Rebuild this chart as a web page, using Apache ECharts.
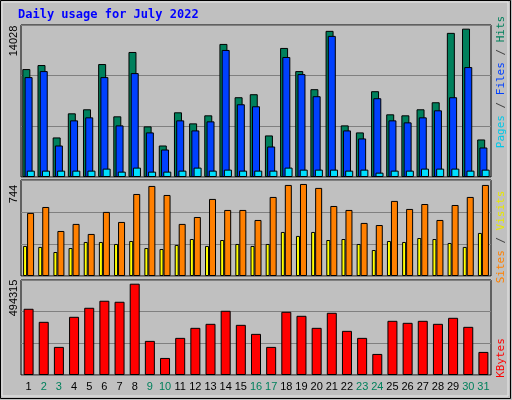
<!DOCTYPE html>
<html><head><meta charset="utf-8">
<script src="https://cdn.jsdelivr.net/npm/echarts@6/dist/echarts.min.js"></script>
<style>html,body{margin:0;padding:0;background:#c0c0c0}#c{width:512px;height:400px}</style>
</head><body><div id="c"></div>
<script>
const days = ['1','2','3','4','5','6','7','8','9','10','11','12','13','14','15','16','17','18','19','20','21','22','23','24','25','26','27','28','29','30','31'];
const weekend = ['2','3','9','10','16','17','23','24','30','31'];
const hits = [10207,10588,3741,6023,6403,10683,5738,11824,4787,2980,6118,5072,5833,12585,7545,7830,3931,12205,10017,8305,13821,4882,4216,8115,5928,5833,6403,7069,13631,14028,3550];
const files = [9447,10017,2980,5357,5643,9447,4882,9827,4216,2599,5357,4406,5262,12014,6879,6689,2885,11349,9732,7640,13346,4406,3646,7450,5357,5167,5643,6308,7545,10398,2790];
const pages = [602,602,602,602,602,793,507,888,507,507,602,888,602,697,602,602,602,888,697,697,697,602,697,412,602,602,793,793,793,602,697];
const visits = [510,558,364,421,340,518,437,663,728,655,421,477,623,534,534,453,639,736,744,712,566,534,429,412,607,542,582,453,574,639,736];
const sites = [243,235,194,226,275,275,259,283,226,218,251,299,243,291,259,243,259,356,324,356,291,299,259,210,283,275,307,299,267,235,348];
const kbytes = [358519,287901,152099,315062,363951,401975,396543,494315,184691,92346,200988,255309,277037,347654,271605,222716,152099,342222,320494,255309,336790,239012,200988,114074,293333,282469,293333,277037,309630,260741,124938];
const maxLabels = ['14028','744','494315'];

const ch = echarts.init(document.getElementById('c'));
const axMax = [14375, 776, 514300];
const grids = [{left:21,right:21,top:25,height:152},{left:21,right:21,top:180,height:96},{left:21,right:21,top:280,height:95}]
  .map(g=>Object.assign(g,{show:true,backgroundColor:'#c0c0c0',borderColor:'#000',borderWidth:1}));
const lf = 'Liberation Sans';
const xAxes = [0,1,2].map(i=>({type:'category',gridIndex:i,data:days,
  axisLine:{show:false},axisTick:{show:false},
  axisLabel:{show:i===2,interval:0,margin:6,fontFamily:lf,fontSize:11,
    formatter:v=>weekend.includes(v)?'{w|'+v+'}':'{n|'+v+'}',
    rich:{n:{color:'#000',fontFamily:lf,fontSize:11},w:{color:'#00805c',fontFamily:lf,fontSize:11}}}}));
const yAxes = [0,1,2].map(i=>({type:'value',gridIndex:i,min:0,max:axMax[i],interval:axMax[i]/3,
  axisLabel:{show:false},axisLine:{show:false},axisTick:{show:false},
  splitLine:{show:true,lineStyle:{color:'#808080',width:1}}}));
const bs = (data,color,i,w,gap)=>({type:'bar',data,xAxisIndex:i,yAxisIndex:i,barWidth:w,barGap:gap,
  itemStyle:{color,borderColor:'#000',borderWidth:1},animation:false,silent:true});
const rot = (text,x,y,extra)=>({type:'text',x,y,rotation:Math.PI/2,
  style:Object.assign({text,textAlign:'center',textVerticalAlign:'middle',fontFamily:lf,fontSize:11,fill:'#000'},extra||{})});
const r = c=>({fill:c,fontFamily:'DejaVu Sans Mono',fontSize:11});
const rich = {h:r('#00805c'),f:r('#0040ff'),p:r('#00c8e8'),s:r('#ff8000'),v:r('#e8e800'),k:r('#ff0000'),g:r('#404040')};
ch.setOption({
  animation:false,
  grid:grids, xAxis:xAxes, yAxis:yAxes,
  series:[
    bs(hits,'#00805c',0,8,'-72%'),
    bs(files,'#0040ff',0,8,'-72%'),
    bs(pages,'#00e0ff',0,8,'-72%'),
    bs(sites,'#ffff00',1,4,'0%'),
    bs(visits,'#ff8000',1,7,'0%'),
    bs(kbytes,'#ff0000',2,10,'0%')
  ],
  graphic:[
    {type:'rect',shape:{x:0.5,y:0.5,width:510,height:398},style:{fill:'none',stroke:'#000',lineWidth:1}},
    {type:'rect',shape:{x:2,y:2,width:506,height:394},style:{fill:'none',stroke:'#e8e8e8',lineWidth:1}},
    {type:'text',x:18,y:9,style:{text:'Daily usage for July 2022',fontFamily:'DejaVu Sans Mono',fontWeight:'bold',fontSize:12,fill:'#0000ff'}},
    rot(maxLabels[0],14,41),
    rot(maxLabels[1],14,194),
    rot(maxLabels[2],14,298),
    rot('{p|Pages}{g| / }{f|Files}{g| / }{h|Hits}',501,82,{rich}),
    rot('{s|Sites}{g| / }{v|Visits}',501,237,{rich}),
    rot('{k|KBytes}',501,358,{rich})
  ]
});
</script></body></html>
